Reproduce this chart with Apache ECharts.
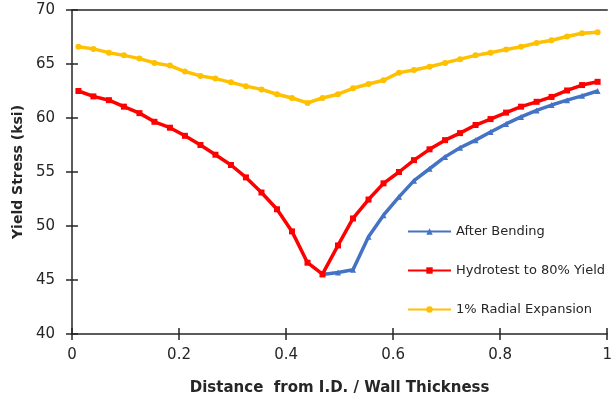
<!DOCTYPE html>
<html>
<head>
<meta charset="utf-8">
<script src="https://cdn.jsdelivr.net/npm/echarts@6/dist/echarts.min.js"></script>
<style>html,body{margin:0;padding:0;background:#fff}#c{width:615px;height:402px}</style>
</head>
<body>
<div id="c"></div>
<script>
const xValues = [0.012,0.040,0.069,0.097,0.126,0.154,0.183,0.211,0.240,0.268,0.297,0.325,0.354,0.383,0.411,0.440,0.468,0.497,0.525,0.554,0.582,0.611,0.639,0.668,0.697,0.725,0.754,0.782,0.811,0.839,0.868,0.896,0.925,0.953,0.982];
const afterBending = [null,null,null,null,null,null,null,null,null,null,null,null,null,null,null,null,45.5,45.7,45.95,49.0,51.0,52.7,54.2,55.3,56.4,57.25,57.95,58.7,59.45,60.1,60.7,61.2,61.65,62.05,62.5];
const hydrotest = [62.5,62.0,61.65,61.05,60.45,59.65,59.1,58.35,57.5,56.6,55.65,54.5,53.1,51.55,49.5,46.6,45.55,48.2,50.7,52.45,53.95,55.0,56.1,57.1,57.95,58.6,59.35,59.9,60.5,61.05,61.5,61.95,62.55,63.05,63.35];
const radialExpansion = [66.6,66.4,66.05,65.8,65.5,65.1,64.85,64.3,63.9,63.65,63.3,62.95,62.65,62.2,61.85,61.4,61.85,62.2,62.75,63.15,63.5,64.2,64.45,64.75,65.1,65.45,65.8,66.05,66.35,66.6,66.95,67.2,67.55,67.85,67.95];
const seriesNames = ['After Bending','Hydrotest to 80% Yield','1% Radial Expansion'];
const xTitle = 'Distance  from I.D. / Wall Thickness';
const yTitle = 'Yield Stress (ksi)';

const pair = arr => xValues.map((x,i) => [x, arr[i] == null ? null : arr[i]]);
const font = 'DejaVu Sans';
const axisCol = '#262626';
const chart = echarts.init(document.getElementById('c'), null, {renderer:'canvas'});
const mk = (name, data, color, symbol) => ({
  name, type:'line', data: pair(data), xAxisIndex:0, yAxisIndex:0,
  smooth:false, symbol, symbolSize:6, showAllSymbol:true, connectNulls:false,
  lineStyle:{color, width:3.5}, itemStyle:{color}, emphasis:{disabled:true}
});
chart.setOption({
  animation:false,
  grid:{left:72,right:0,top:10,bottom:68,containLabel:false},
  legend:{
    data:seriesNames, orient:'vertical', left:402, top:220, itemGap:26,
    itemWidth:43, itemHeight:8,
    textStyle:{fontFamily:font, fontSize:13, color:axisCol}
  },
  xAxis:[
    {type:'value', min:0, max:1, interval:0.2, position:'bottom',
     name:xTitle, nameLocation:'middle', nameGap:47,
     nameTextStyle:{fontFamily:font, fontSize:15, fontWeight:'bold', color:axisCol},
     axisLine:{show:true, onZero:false, lineStyle:{color:axisCol, width:1.5}},
     axisTick:{show:true, length:6, lineStyle:{color:axisCol, width:1.5}},
     axisLabel:{fontFamily:font, fontSize:15, color:axisCol, margin:14},
     splitLine:{show:false}},
    {type:'value', min:0, max:1, interval:0.2, position:'bottom',
     axisLine:{show:false}, axisTick:{show:true, inside:true, length:6, lineStyle:{color:axisCol, width:1.5}},
     axisLabel:{show:false}, splitLine:{show:false}},
    {type:'value', min:0, max:1, position:'top',
     axisLine:{show:true, lineStyle:{color:axisCol, width:1.5}}, axisTick:{show:false},
     axisLabel:{show:false}, splitLine:{show:false}}
  ],
  yAxis:[
    {type:'value', min:40, max:70, interval:5, position:'left',
     name:yTitle, nameLocation:'middle', nameGap:45,
     nameTextStyle:{fontFamily:font, fontSize:14, fontWeight:'bold', color:axisCol},
     axisLine:{show:true, onZero:false, lineStyle:{color:axisCol, width:1.5}},
     axisTick:{show:true, length:6, lineStyle:{color:axisCol, width:1.5}},
     axisLabel:{fontFamily:font, fontSize:15, color:axisCol, margin:17},
     splitLine:{show:false}},
    {type:'value', min:40, max:70, interval:5, position:'left',
     axisLine:{show:false}, axisTick:{show:true, inside:true, length:6, lineStyle:{color:axisCol, width:1.5}},
     axisLabel:{show:false}, splitLine:{show:false}}
  ],
  series:[
    mk(seriesNames[0], afterBending, '#4472C4', 'triangle'),
    mk(seriesNames[1], hydrotest, '#FF0000', 'rect'),
    mk(seriesNames[2], radialExpansion, '#FFC000', 'circle')
  ]
});
</script>
</body>
</html>
